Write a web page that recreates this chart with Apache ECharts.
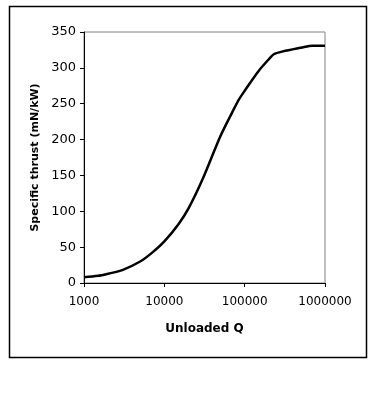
<!DOCTYPE html>
<html>
<head>
<meta charset="utf-8">
<script src="https://cdn.jsdelivr.net/npm/echarts@6/dist/echarts.min.js"></script>
<style>
  html, body { margin: 0; padding: 0; background: #fff; }
  #chart { width: 376px; height: 403px; }
</style>
</head>
<body>
<div id="chart"></div>
<script>
// unloaded Q (x) and specific thrust in mN/kW (y)
var unloadedQ = [1000, 1500, 2000, 3000, 5000, 7000, 10000, 15000, 20000, 30000,
	50000, 70000, 85000, 100000, 150000, 200000, 230000, 300000, 500000, 700000, 1000000];
var thrust = [8, 10, 13, 18, 30, 42, 58, 82, 104, 145,
	205, 238, 256, 268, 296, 312, 319, 323, 328, 331, 331];
var yTicks = [0, 50, 100, 150, 200, 250, 300, 350];

function showChart(divId) {
	var chart = echarts.init(document.getElementById(divId));
	chart.setOption(genOption(), true);
}

function genOption() {
	var points = [];
	for (var i = 0; i < unloadedQ.length; i++) {
		points.push([unloadedQ[i], thrust[i]]);
	}
	var font = 'DejaVu Sans';
	return {
		animation : false,
		backgroundColor : '#fff',
		graphic : [ {
			type : 'rect',
			shape : { x : 9.5, y : 6.5, width : 357, height : 351 },
			style : { fill : 'none', stroke : '#000', lineWidth : 1.5 },
			silent : true
		} ],
		grid : {
			left : 84,
			top : 32,
			right : 51,
			bottom : 120,
			show : true,
			borderColor : '#808080',
			borderWidth : 1
		},
		xAxis : {
			type : 'log',
			logBase : 10,
			min : 1000,
			max : 1000000,
			name : 'Unloaded Q',
			nameLocation : 'middle',
			nameGap : 40,
			nameTextStyle : { fontFamily : font, fontWeight : 'bold', fontSize : 12, color : '#000' },
			axisLine : { lineStyle : { color : '#000', width : 1 } },
			axisTick : { inside : false, length : 4, lineStyle : { color : '#000' } },
			minorTick : { show : false },
			splitLine : { show : false },
			axisLabel : {
				margin : 13,
				fontFamily : font,
				fontSize : 12,
				color : '#000',
				formatter : function (v) { return String(Math.round(v)); }
			}
		},
		yAxis : {
			type : 'value',
			min : yTicks[0],
			max : yTicks[yTicks.length - 1],
			interval : 50,
			name : 'Specific thrust (mN/kW)',
			nameLocation : 'middle',
			nameGap : 43,
			nameTextStyle : { fontFamily : font, fontWeight : 'bold', fontSize : 11, color : '#000' },
			axisLine : { show : true, lineStyle : { color : '#000', width : 1 } },
			axisTick : { show : true, inside : false, length : 4, lineStyle : { color : '#000' } },
			splitLine : { show : false },
			axisLabel : { margin : 8, fontFamily : font, fontSize : 13, color : '#000' }
		},
		series : [ {
			type : 'line',
			data : points,
			showSymbol : false,
			symbol : 'none',
			smooth : 0.3,
			lineStyle : { color : '#000', width : 2.5 }
		} ]
	};
}

showChart('chart');
</script>
</body>
</html>
